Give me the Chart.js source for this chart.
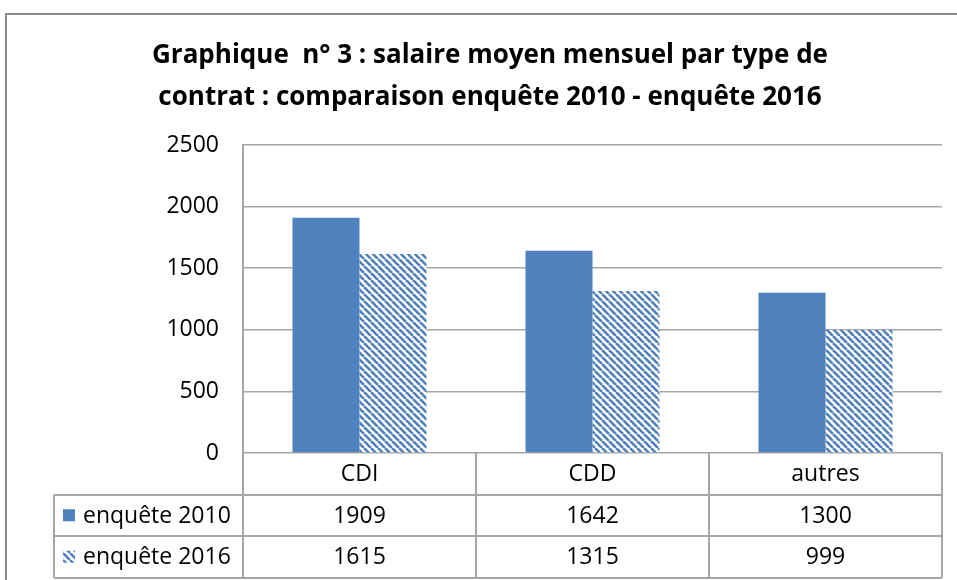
<!DOCTYPE html>
<html><head><meta charset="utf-8">
<script src="https://cdn.jsdelivr.net/npm/chart.js@4/dist/chart.umd.min.js"></script>
<style>html,body{margin:0;padding:0;background:#fff;overflow:hidden}</style>
</head><body>
<canvas id="c" width="957" height="580"></canvas>
<script>
const categories = ['CDI', 'CDD', 'autres'];
const seriesNames = ['enquête 2010', 'enquête 2016'];
const values2010 = [1909, 1642, 1300];
const values2016 = [1615, 1315, 999];
const yTicks = [0, 500, 1000, 1500, 2000, 2500];
const titleLines = ['Graphique  n° 3 : salaire moyen mensuel par type de', 'contrat : comparaison enquête 2010 - enquête 2016'];

const BLUE = '#4F81BD';
const GRID = '#a6a6a6';
const FONT = '"Open Sans"';

function makeHatch() {
  const s = 7;
  const c = document.createElement('canvas');
  c.width = s; c.height = s;
  const x = c.getContext('2d');
  x.fillStyle = '#fff'; x.fillRect(0, 0, s, s);
  x.strokeStyle = BLUE; x.lineWidth = 2.6;
  x.beginPath();
  for (let k = -1; k <= 1; k++) { x.moveTo(k * s, 0); x.lineTo(k * s + s, s); }
  x.stroke();
  return x.createPattern(c, 'repeat');
}
const hatch = makeHatch();

const tablePlugin = {
  id: 'dataTable',
  afterDraw(chart) {
    const ctx = chart.ctx;
    const xs = chart.scales.x;
    const area = chart.chartArea;
    const n = categories.length;
    const cw = (area.right - area.left) / n;
    const rowH = 41.5;
    const top = area.bottom;
    const tableLeft = 54;
    ctx.save();
    ctx.strokeStyle = GRID; ctx.lineWidth = 2;
    ctx.beginPath();
    for (let r = 1; r <= 3; r++) {
      const y = Math.round(top + r * rowH);
      ctx.moveTo(tableLeft, y); ctx.lineTo(area.right, y);
    }
    ctx.moveTo(tableLeft, top + rowH); ctx.lineTo(tableLeft, top + 3 * rowH);
    ctx.moveTo(area.left, area.top); ctx.lineTo(area.left, top + 3 * rowH);
    for (let i = 1; i <= n; i++) {
      const x = Math.round(area.left + i * cw);
      ctx.moveTo(x, top); ctx.lineTo(x, top + 3 * rowH);
    }
    ctx.stroke();

    ctx.fillStyle = '#000';
    ctx.font = '23px ' + FONT;
    ctx.textAlign = 'center'; ctx.textBaseline = 'middle';
    const rows = [values2010, values2016];
    categories.forEach((cat, i) => {
      const cx = xs.getPixelForValue(i);
      ctx.fillText(cat, cx, top + rowH / 2 + 1);
      rows.forEach((vals, r) => {
        ctx.fillText(String(vals[i]), cx, top + (r + 1.5) * rowH + 1);
      });
    });
    ctx.textAlign = 'left';
    seriesNames.forEach((name, r) => {
      const cy = top + (r + 1.5) * rowH;
      ctx.fillStyle = r === 0 ? BLUE : hatch;
      ctx.fillRect(63, cy - 6, 12, 12);
      ctx.fillStyle = '#000';
      ctx.fillText(name, 83, cy + 1);
    });
    ctx.strokeStyle = '#8a8a8a'; ctx.lineWidth = 2;
    ctx.beginPath();
    ctx.moveTo(6, 580); ctx.lineTo(6, 14); ctx.lineTo(957, 14);
    ctx.stroke();
    ctx.restore();
  }
};

new Chart(document.getElementById('c'), {
  type: 'bar',
  data: {
    labels: categories,
    datasets: [
      { label: seriesNames[0], data: values2010, backgroundColor: BLUE, borderWidth: 0 },
      { label: seriesNames[1], data: values2016, backgroundColor: hatch, borderWidth: 0 }
    ]
  },
  options: {
    responsive: false,
    animation: false,
    devicePixelRatio: 1,
    layout: { padding: { left: 38, right: 15, top: 0, bottom: 127 } },
    datasets: { bar: { categoryPercentage: 0.575, barPercentage: 1 } },
    plugins: {
      legend: { display: false },
      tooltip: { enabled: false },
      title: {
        display: true,
        text: titleLines,
        color: '#000',
        font: { family: FONT, size: 26, weight: 'bold', lineHeight: 1.615 },
        padding: { top: 35, bottom: 26 }
      }
    },
    scales: {
      x: { display: false },
      y: {
        min: 0, max: 2500,
        afterBuildTicks(axis) { axis.ticks = yTicks.map(v => ({ value: v })); },
        afterFit(axis) { axis.width = 243 - 38; },
        grid: { color: GRID, lineWidth: 1.5, drawTicks: false },
        border: { display: true, color: GRID, width: 2 },
        ticks: { color: '#000', padding: 24, font: { family: FONT, size: 23 }, callback: v => String(v) }
      }
    }
  },
  plugins: [tablePlugin]
});
</script>
</body></html>
